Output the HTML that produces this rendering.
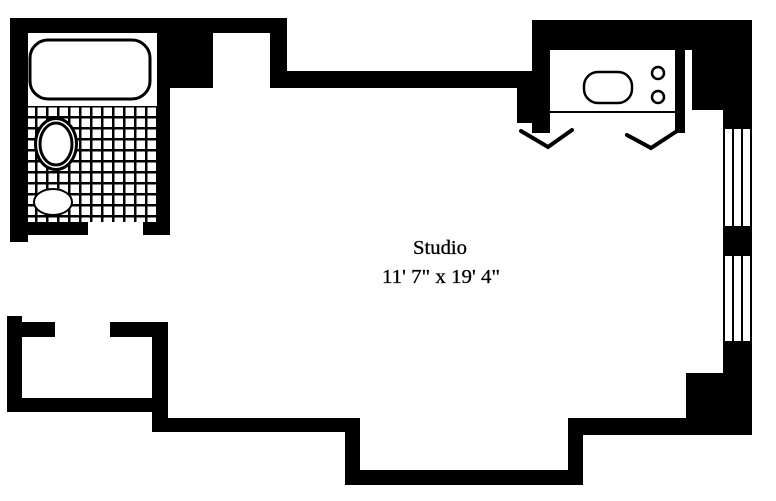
<!DOCTYPE html>
<html><head><style>body{margin:0;background:#fff}svg{display:block}</style></head><body>
<svg width="776" height="501" viewBox="0 0 776 501" xmlns="http://www.w3.org/2000/svg">
<!-- tiles -->
<defs><pattern id="t" x="25" y="106" width="11" height="11" patternUnits="userSpaceOnUse"><rect width="11" height="11" fill="#000"/><rect x="1.5" y="1.5" width="8.5" height="8.5" fill="#fff"/></pattern></defs>
<rect x="25" y="106" width="132" height="116" fill="url(#t)"/>
<g fill="#000">
<!-- bathroom -->
<rect x="10" y="18" width="18" height="224"/>
<rect x="10" y="18" width="277" height="15"/>
<rect x="157" y="18" width="56" height="70"/>
<rect x="157" y="88" width="13" height="147"/>
<rect x="270" y="18" width="17" height="70"/>
<rect x="270" y="71" width="280" height="17"/>
<rect x="10" y="222" width="78" height="13"/>
<rect x="143" y="222" width="27" height="13"/>
<!-- kitchen -->
<rect x="532" y="20" width="220" height="30"/>
<rect x="532" y="20" width="18" height="113"/>
<rect x="517" y="72" width="33" height="51"/>
<rect x="675" y="50" width="10" height="83"/>
<rect x="692" y="20" width="60" height="90"/>
<rect x="723" y="20" width="29" height="108"/>
<!-- right wall -->
<rect x="723" y="227" width="29" height="28"/>
<rect x="723" y="342" width="29" height="93"/>
<rect x="686" y="373" width="66" height="62"/>
<!-- bottom -->
<rect x="152" y="322" width="16" height="110"/>
<rect x="152" y="418" width="205" height="14"/>
<rect x="345" y="418" width="15" height="67"/>
<rect x="345" y="470" width="238" height="15"/>
<rect x="568" y="418" width="15" height="67"/>
<rect x="568" y="418" width="184" height="17"/>
<!-- closet -->
<rect x="7" y="316" width="15" height="96"/>
<rect x="7" y="322" width="48" height="15"/>
<rect x="110" y="322" width="58" height="15"/>
<rect x="7" y="398" width="161" height="14"/>
</g>
<!-- windows -->
<g stroke="#000" stroke-width="2" fill="none">
<rect x="724" y="128" width="27" height="99"/>
<line x1="733" y1="128" x2="733" y2="227"/><line x1="742" y1="128" x2="742" y2="227"/>
<rect x="724" y="255" width="27" height="87"/>
<line x1="733" y1="255" x2="733" y2="342"/><line x1="742" y1="255" x2="742" y2="342"/>
</g>
<g stroke="#000" fill="#fff">
<rect x="30" y="40" width="120" height="59" rx="18" stroke-width="3"/>
<ellipse cx="56" cy="144" rx="22" ry="27" fill="#000" stroke="none"/>
<ellipse cx="56" cy="144" rx="19" ry="24" stroke="none"/>
<ellipse cx="56" cy="144" rx="16" ry="21" stroke-width="3"/>
<ellipse cx="53" cy="202" rx="19" ry="13" stroke-width="2"/>
</g>
<!-- kitchen fixtures -->
<line x1="550" y1="112" x2="675" y2="112" stroke="#000" stroke-width="2"/>
<g stroke="#000" stroke-width="2.5" fill="none">
<rect x="584" y="72" width="48" height="31" rx="14"/>
<circle cx="658" cy="73" r="6"/><circle cx="658" cy="97" r="6"/>
</g>
<g stroke="#000" stroke-width="4" fill="none" stroke-linecap="round">
<polyline points="521,131 548,147 572,130"/>
<polyline points="627,135 651,148 677,131"/>
</g>
<g font-family="'Liberation Serif',serif" font-size="20" text-anchor="middle" fill="#000" stroke="#000" stroke-width="0.3">
<text x="440" y="254" textLength="54" lengthAdjust="spacingAndGlyphs">Studio</text>
<text x="441" y="283" textLength="118" lengthAdjust="spacingAndGlyphs">11' 7" x 19' 4"</text>
</g>
</svg>
</body></html>
